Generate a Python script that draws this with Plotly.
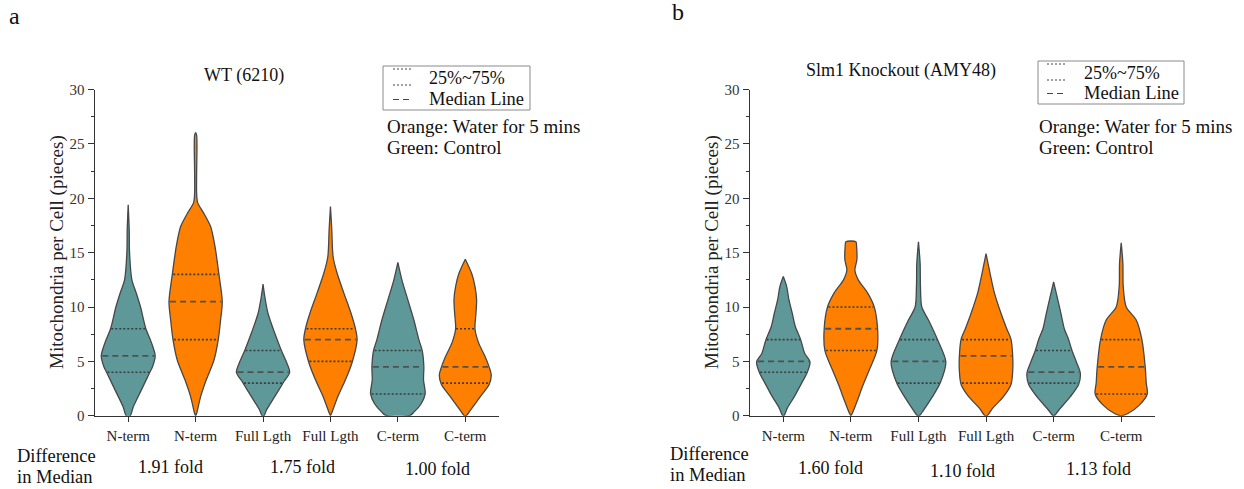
import numpy as np
import plotly.graph_objects as go

# ---------------------------------------------------------------- data
categories = ["N-term", "N-term", "Full Lgth", "Full Lgth", "C-term", "C-term"]
treatment = ["Control", "Water", "Control", "Water", "Control", "Water"]

# quartiles / medians (mitochondria per cell)
wt_q1 = [4, 7, 3, 5, 2, 3]
wt_median = [5.5, 10.5, 4, 7, 4.5, 4.5]
wt_q3 = [8, 13, 6, 8, 6, 8]

ko_q1 = [4, 6, 3, 3, 3, 2]
ko_median = [5, 8, 5, 5.5, 4, 4.5]
ko_q3 = [7, 10, 7, 7, 6, 7]

# density outlines: value levels and relative half-widths of each violin
wt_levels = [
    [0, 0.8, 2.4, 4.0, 4.5, 5.5, 6.7, 8.0, 10.0, 11.3, 12.5, 15.0, 17.1, 19.4],
    [0, 0.2, 1.75, 3.3, 5.1, 7.0, 8.8, 10.5, 13.0, 15.6, 17.4, 18.6, 19.6, 20.5, 22.3, 24.8, 25.8, 26.05],
    [0, 0.5, 1.75, 3.1, 4.0, 4.8, 6.0, 7.6, 9.4, 11.0, 12.1],
    [0, 0.2, 1.75, 3.3, 4.9, 7.0, 8.0, 9.4, 11.3, 13.1, 14.6, 17.1, 19.25],
    [0, 0.35, 1.1, 2.0, 3.3, 4.5, 6.0, 7.0, 8.8, 10.65, 12.5, 14.1],
    [0, 0.5, 1.75, 2.9, 3.75, 4.45, 5.4, 6.7, 8.0, 9.4, 10.65, 11.9, 13.1, 14.4],
]
wt_widths = [
    [6, 15, 40, 65, 73, 81, 70, 53, 37, 24, 11, 4, 3, 0],
    [0, 3, 15, 32, 55, 68, 75, 80, 70, 58, 45, 25, 6, 3, 3, 4, 3, 0],
    [3, 10, 35, 62, 80, 72, 55, 35, 15, 5, 0],
    [0, 3, 22, 45, 65, 80, 75, 62, 40, 20, 8, 4, 0],
    [35, 49, 70, 82, 77, 78, 73, 63, 48, 30, 12, 0],
    [3, 15, 45, 72, 78, 72, 60, 40, 29, 32, 34, 29, 19, 0],
]

ko_levels = [
    [0, 0.7, 1.75, 3.0, 4.0, 4.95, 5.75, 7.0, 8.2, 9.4, 10.65, 11.9, 12.8],
    [0, 0.2, 1.45, 2.7, 4.2, 6.0, 8.0, 10.0, 11.3, 12.5, 13.4, 14.35, 15.6, 16.0],
    [0, 0.5, 1.75, 3.0, 4.95, 7.0, 8.8, 10.0, 11.9, 14.0, 16.0],
    [0, 0.7, 1.75, 2.9, 4.2, 5.4, 7.0, 8.0, 9.4, 11.3, 13.1, 14.9],
    [0, 0.5, 1.75, 2.9, 3.9, 4.8, 6.0, 7.0, 8.0, 9.4, 11.0, 12.3],
    [0, 0.2, 1.0, 2.0, 3.0, 4.45, 7.0, 8.8, 10.0, 11.9, 14.0, 15.9],
]
ko_widths = [
    [2, 12, 33, 55, 72, 80, 64, 52, 36, 27, 17, 10, 0],
    [0, 4, 20, 35, 55, 78, 80, 70, 50, 22, 12, 18, 17, 15],
    [3, 15, 42, 65, 82, 57, 30, 10, 6, 5, 0],
    [3, 20, 52, 75, 80, 80, 75, 62, 45, 25, 12, 0],
    [2, 15, 50, 75, 80, 70, 55, 45, 32, 22, 10, 0],
    [3, 20, 55, 78, 75, 72, 62, 45, 15, 6, 5, 0],
]

wt_fold = ["1.91 fold", "1.75 fold", "1.00 fold"]
ko_fold = ["1.60 fold", "1.10 fold", "1.13 fold"]

# ---------------------------------------------------------------- style
W, H = 1244, 489
FONT = "Liberation Serif"
COLORS = {"Control": "#5f9898", "Water": "#ff8000"}
EDGE = "#474747"
QCOLOR = "#3c3c3c"
AXIS = "#333333"
MAX_HALF = 0.4   # half-width of the widest violin, in category units
W_REF = 81.0


def px(x):
    return x / W


def py(y):
    return 1 - y / H


fig = go.Figure()

panels = [
    ("x", "y", wt_q1, wt_median, wt_q3, wt_levels, wt_widths),
    ("x2", "y2", ko_q1, ko_median, ko_q3, ko_levels, ko_widths),
]

for xa, ya, q1s, meds, q3s, levels, widths in panels:
    for i in range(len(categories)):
        lv = np.asarray(levels[i], dtype=float)
        hw = np.asarray(widths[i], dtype=float) / W_REF * MAX_HALF
        xs = np.concatenate([i + hw, (i - hw)[::-1], [i + hw[0]]])
        ys = np.concatenate([lv, lv[::-1], [lv[0]]])
        fig.add_trace(go.Scatter(
            x=xs, y=ys, mode="lines", fill="toself",
            fillcolor=COLORS[treatment[i]],
            line=dict(color=EDGE, width=1.3, shape="spline", smoothing=0.8),
            xaxis=xa, yaxis=ya, hoverinfo="skip", showlegend=False,
        ))
        for q, dash, width, col in ((q1s[i], "2px,2px", 1.6, QCOLOR),
                                    (q3s[i], "2px,2px", 1.6, QCOLOR),
                                    (meds[i], "6px,4px", 1.8, "#505050")):
            h = float(np.interp(q, lv, hw)) * 0.96
            fig.add_trace(go.Scatter(
                x=[i - h, i + h], y=[q, q], mode="lines",
                line=dict(color=col, width=width, dash=dash),
                xaxis=xa, yaxis=ya, hoverinfo="skip", showlegend=False,
            ))

x_common = dict(
    range=[-0.5, 5.5], tickmode="array", tickvals=list(range(6)),
    ticktext=categories, ticks="outside", ticklen=5, tickcolor=AXIS,
    showline=True, linecolor=AXIS, linewidth=1, showgrid=False,
    zeroline=False, fixedrange=True, automargin=False,
    ticklabelstandoff=1,
    tickfont=dict(family=FONT, size=15, color="#222"),
)
y_common = dict(
    range=[0, 30], tickmode="linear", tick0=0, dtick=5, ticks="outside",
    ticklen=6, tickcolor=AXIS, showline=True, linecolor=AXIS, linewidth=1,
    showgrid=False, zeroline=False, fixedrange=True, automargin=False,
    minor=dict(ticks="outside", ticklen=3, dtick=2.5, tickcolor=AXIS),
    tickfont=dict(family=FONT, size=15, color="#333"),
)

y_dom = [py(415.7), py(89.6)]
fig.update_layout(
    width=W, height=H, margin=dict(l=0, r=0, t=0, b=0, pad=0),
    paper_bgcolor="white", plot_bgcolor="white", showlegend=False,
    xaxis=dict(domain=[px(94.5), px(499)], anchor="y", **x_common),
    yaxis=dict(domain=y_dom, anchor="x", **y_common),
    xaxis2=dict(domain=[px(749.5), px(1155)], anchor="y2", **x_common),
    yaxis2=dict(domain=y_dom, anchor="x2", **y_common),
)

ann = []


def text(x, y, s, size, anchor="center", color="#111", angle=0):
    ann.append(dict(x=px(x), y=py(y), xref="paper", yref="paper", text=s,
                    showarrow=False, xanchor=anchor, yanchor="middle",
                    textangle=angle,
                    font=dict(family=FONT, size=size, color=color)))


# panel letters and titles
text(15, 16, "a", 24)
text(678, 12, "b", 24)
text(244, 75, "WT (6210)", 18)
text(901, 70, "Slm1 Knockout (AMY48)", 18)

# y-axis titles
text(57, 252, "Mitochondria per Cell (pieces)", 19, color="#222", angle=-90)
text(712, 252, "Mitochondria per Cell (pieces)", 19, color="#222", angle=-90)

# legend boxes
shapes = []


def legend(x0, x1, y0, y1, lx0, lx1, ly, tx, ty):
    shapes.append(dict(type="rect", xref="paper", yref="paper",
                       x0=px(x0), x1=px(x1), y0=py(y0), y1=py(y1),
                       line=dict(color="#8a8a8a", width=1)))
    for yy, dash in ((ly[0], "2px,2px"), (ly[1], "2px,2px"), (ly[2], "6px,4px")):
        shapes.append(dict(type="line", xref="paper", yref="paper",
                           x0=px(lx0), x1=px(lx1), y0=py(yy), y1=py(yy),
                           line=dict(color="#444", width=1.2, dash=dash)))
    text(tx, ty[0], "25%~75%", 18, anchor="left")
    text(tx, ty[1], "Median Line", 18.5, anchor="left")


legend(383, 530, 66, 110, 393, 413, (69, 85, 99.5), 427, (78, 99))
legend(1038, 1184, 61, 104, 1047, 1067, (64, 80, 93.5), 1082, (73, 93))

text(385, 126, "Orange: Water for 5 mins", 19, anchor="left")
text(385, 147, "Green: Control", 19, anchor="left")
text(1037, 126, "Orange: Water for 5 mins", 19, anchor="left")
text(1037, 147, "Green: Control", 19, anchor="left")

# median fold changes under each pair
text(15, 456, "Difference", 18.5, anchor="left")
text(15, 477, "in Median", 18.5, anchor="left")
text(668, 454, "Difference", 18.5, anchor="left")
text(668, 475, "in Median", 18.5, anchor="left")
for (cx, cy), s in zip([(171, 467), (302, 467), (437, 469)], wt_fold):
    text(cx, cy, s, 18)
for (cx, cy), s in zip([(830, 468), (962, 471), (1098, 469)], ko_fold):
    text(cx, cy, s, 18)

fig.update_layout(annotations=ann, shapes=shapes)
fig.write_html("out.html")
